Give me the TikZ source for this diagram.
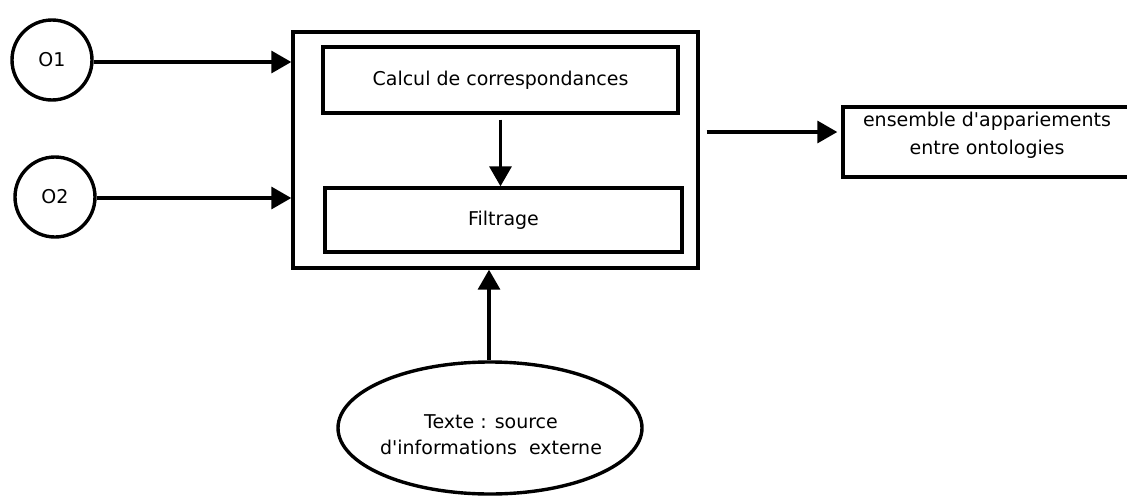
\documentclass[tikz,border=0pt]{standalone}
\usepackage{fontspec}
\setmainfont{DejaVu Sans}
\usetikzlibrary{arrows.meta,shapes.geometric}
\begin{document}
\begin{tikzpicture}[x=1pt,y=-1pt,line width=3.4pt,
  box/.style={draw,rectangle,inner sep=0pt,line width=3.4pt},
  circ/.style={draw,circle,inner sep=0pt,minimum size=80pt,line width=3.4pt},
  arr/.style={-{Triangle[length=20pt,width=22pt]},line width=3.4pt},
  lbl/.style={font=\fontsize{19}{26}\selectfont,align=center,inner sep=0pt}]
\useasboundingbox (0,0) rectangle (1127,498);
% input circles
\node[circ,lbl,minimum size=80pt] (o1) at (52,60) {O1};
\node[circ,lbl,minimum size=80pt] (o2) at (55,197) {O2};
% outer box and inner boxes
\node[box,minimum width=405pt,minimum height=236pt] (outer) at (495.5,150) {};
\node[box,lbl,minimum width=355pt,minimum height=66pt] (calc) at (500.5,80) {Calcul de correspondances};
\node[box,lbl,minimum width=357pt,minimum height=64pt] (filt) at (503.5,220) {Filtrage};
% output box (open to the right, cut by the page edge)
\node[box,minimum width=288pt,minimum height=70pt] (out) at (987,142) {};
\node[lbl,font=\fontsize{19}{28}\selectfont] (outtxt) at (987,135) {ensemble d\textquotesingle appariements\\entre ontologies};
% external source ellipse
\node[draw,ellipse,line width=3.4pt,minimum width=304pt,minimum height=132pt,inner sep=0pt] (src) at (490,428) {};
\node[lbl] (srctxt) at (491,435) {Texte : source\\d\textquotesingle informations\ \ externe};
% connectors
\draw[arr] (o1.east |- 0,62) -- (outer.west |- 0,62);
\draw[arr] (o2.east |- 0,198) -- (outer.west |- 0,198);
\draw[arr] ([yshift=-5pt]calc.south) -- (calc.south |- filt.north);
\draw[arr] ([xshift=7pt,yshift=18pt]outer.east) -- ([xshift=-4pt,yshift=10pt]out.west);
\draw[arr] ([xshift=-1pt]src.north) -- ([xshift=-1pt]src.north |- outer.south);
\end{tikzpicture}
\end{document}
